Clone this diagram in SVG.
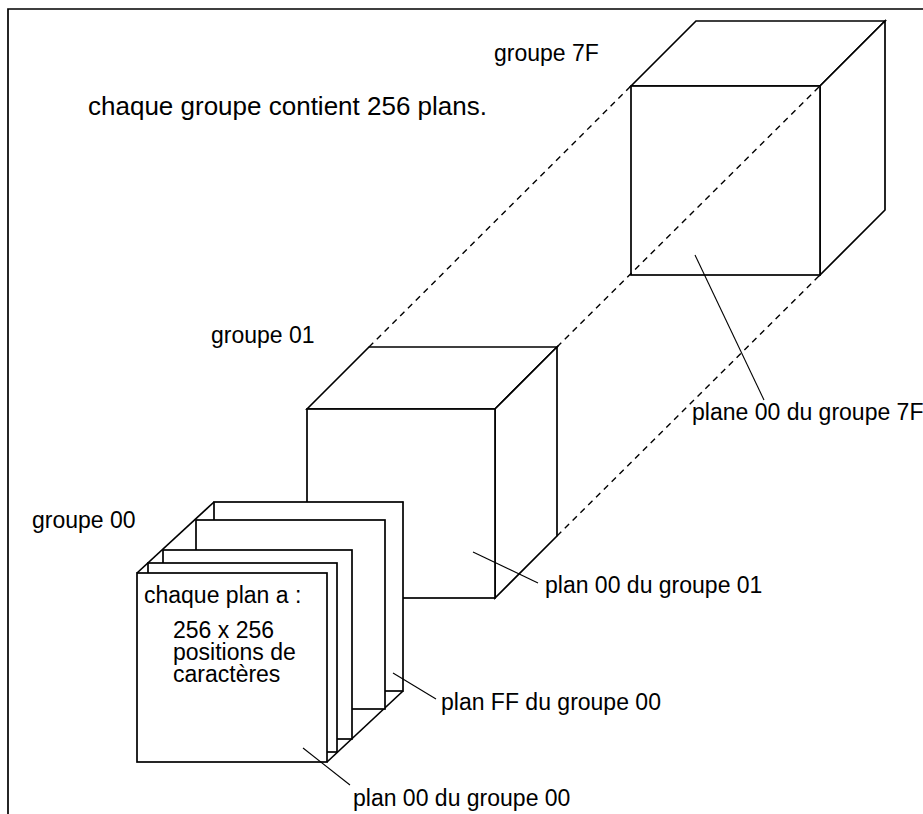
<svg xmlns="http://www.w3.org/2000/svg" width="923" height="814" viewBox="0 0 923 814">
<style>
.t{font-family:"Liberation Sans",Arial,sans-serif;font-size:23px;fill:#000}
.big{font-size:26px}
.e{fill:#fff;stroke:#000;stroke-width:1.7;stroke-linejoin:miter}
.ln{fill:none;stroke:#000;stroke-width:1.7}
.lead{fill:none;stroke:#000;stroke-width:1.1}
.dash{fill:none;stroke:#000;stroke-width:1.4;stroke-dasharray:6,5}
</style>
<rect width="923" height="814" fill="#fff"/>
<g id="frame"><polyline class="ln" points="8,814 8,9 923,9" stroke-width="2.2"/></g>
<text class="t big" x="88" y="115">chaque groupe contient 256 plans.</text>
<g id="groupe7F">
<polygon class="e" points="631,86 696,21 885,21 820,86"/>
<polygon class="e" points="820,86 885,21 885,210 820,275"/>
<rect class="e" x="631" y="86" width="189" height="189"/>
<text class="t" x="494" y="61">groupe 7F</text>
</g>
<g id="groupe01">
<polygon class="e" points="307,409 369,347 557,347 495,409"/>
<polygon class="e" points="495,409 557,347 557,536 495,598"/>
<rect class="e" x="307" y="409" width="188" height="189"/>
<text class="t" x="211" y="343">groupe 01</text>
</g>
<g id="groupe00">
<polygon points="137,573 214,502 403,502 403,691 327,762 137,762" fill="#fff"/>
<line class="ln" x1="137" y1="573" x2="214" y2="502"/>
<line class="ln" x1="327" y1="573" x2="403" y2="502"/>
<line class="ln" x1="327" y1="762" x2="403" y2="691"/>
<rect class="e" x="214" y="502" width="189" height="189"/>
<rect class="e" x="196" y="520" width="189" height="189"/>
<rect class="e" x="163" y="550" width="189" height="189"/>
<rect class="e" x="148" y="563" width="189" height="189"/>
<rect class="e" x="137" y="573" width="190" height="189"/>
<text class="t" x="144" y="603">chaque plan a :</text>
<text class="t" x="173" y="638">256 x 256</text>
<text class="t" x="173" y="660">positions de</text>
<text class="t" x="173" y="682">caractères</text>
<text class="t" x="32" y="528">groupe 00</text>
</g>
<g id="connectors">
<line class="dash" x1="369" y1="347" x2="631" y2="86"/>
<line class="dash" x1="557" y1="347" x2="820" y2="86"/>
<line class="dash" x1="557" y1="536" x2="820" y2="275"/>
<line class="lead" x1="695" y1="255" x2="764" y2="400"/>
<line class="lead" x1="473" y1="552" x2="538" y2="583"/>
<line class="lead" x1="393" y1="673" x2="436" y2="699"/>
<line class="lead" x1="303" y1="748" x2="350" y2="785"/>
</g>
<g id="labels">
<text class="t" x="692" y="420">plane 00 du groupe 7F</text>
<text class="t" x="545" y="593">plan 00 du groupe 01</text>
<text class="t" x="441" y="710">plan FF du groupe 00</text>
<text class="t" x="353" y="806">plan 00 du groupe 00</text>
</g>
</svg>
